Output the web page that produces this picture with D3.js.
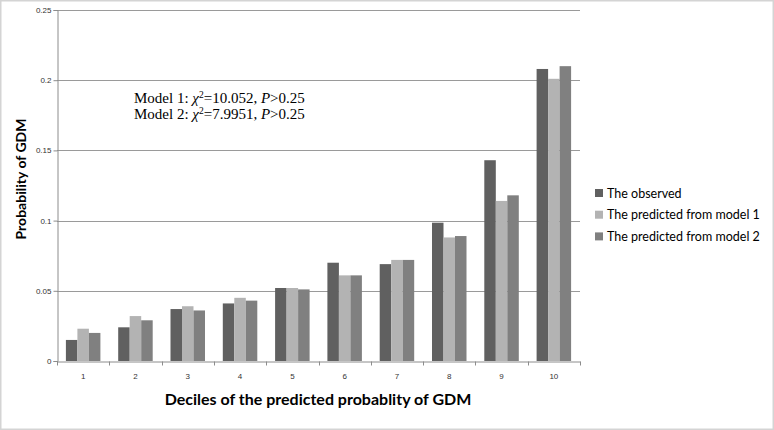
<!DOCTYPE html>
<html>
<head>
<meta charset="utf-8">
<script src="https://cdn.jsdelivr.net/npm/d3@7"></script>
<style>
  body { margin: 0; background: #fff; }
</style>
</head>
<body>
<script>
    var deciles = ["1", "2", "3", "4", "5", "6", "7", "8", "9", "10"];
    var seriesNames = ["The observed", "The predicted from model 1", "The predicted from model 2"];
    var observed = [0.015, 0.024, 0.037, 0.041, 0.052, 0.070, 0.069, 0.0985, 0.143, 0.208];
    var model1   = [0.023, 0.032, 0.039, 0.045, 0.052, 0.061, 0.072, 0.088, 0.114, 0.201];
    var model2   = [0.020, 0.029, 0.036, 0.043, 0.051, 0.061, 0.072, 0.089, 0.118, 0.210];
    var yTicks = [0, 0.05, 0.1, 0.15, 0.2, 0.25];
    var colors = ["#606060", "#b3b3b3", "#808080"];

    var width = 774, height = 430,
        plotLeft = 57, plotRight = 580,
        plotTop = 10, plotBottom = 361,
        groupWidth = 34.5;

    var svg = d3.select("body").append("svg")
        .attr("width", width)
        .attr("height", height)
        .style("font-family", "Lato, 'Open Sans', sans-serif");

    // outer frame
    svg.append("rect")
        .attr("x", 0.5).attr("y", 0.5)
        .attr("width", width - 1).attr("height", height - 1)
        .attr("fill", "#fff")
        .attr("stroke", "#d4d4d4")
        .attr("stroke-width", 2);

    var x = d3.scaleBand().domain(deciles).range([plotLeft, plotRight]).padding(0);
    var inner = d3.scaleBand().domain(d3.range(3))
        .range([(x.bandwidth() - groupWidth) / 2, (x.bandwidth() + groupWidth) / 2])
        .padding(0);

    var y = d3.scaleLinear().domain([0, 0.25]).range([plotBottom, plotTop]);

    // grid lines
    svg.append("g").selectAll("line")
        .data(yTicks.slice(1))
        .enter().append("line")
        .attr("x1", plotLeft).attr("x2", plotRight)
        .attr("y1", function (d) { return Math.round(y(d)) + 0.5; })
        .attr("y2", function (d) { return Math.round(y(d)) + 0.5; })
        .attr("stroke", "#9a9a9a")
        .attr("stroke-width", 1);

    var table = deciles.map(function (d, i) {
        return { cat: d, vals: [observed[i], model1[i], model2[i]] };
    });

    var groups = svg.append("g").selectAll("g")
        .data(table)
        .enter().append("g")
        .attr("transform", function (d) { return "translate(" + x(d.cat) + ",0)"; });

    groups.selectAll("rect")
        .data(function (d) { return d.vals; })
        .enter().append("rect")
        .attr("x", function (d, i) { return inner(i); })
        .attr("width", inner.bandwidth())
        .attr("y", function (d) { return y(d); })
        .attr("height", function (d) { return plotBottom - y(d); })
        .attr("fill", function (d, i) { return colors[i]; });

    // y axis
    var yAxis = svg.append("g")
        .attr("transform", "translate(" + (plotLeft + 0.5) + ",0)")
        .call(d3.axisLeft(y).tickValues(yTicks).tickSize(4).tickFormat(function (d) { return d === 0 ? "0" : String(d); }));
    yAxis.select(".domain").attr("stroke", "#8c8c8c");
    yAxis.selectAll(".tick line").attr("stroke", "#8c8c8c");
    yAxis.selectAll("text").attr("font-size", 8).attr("fill", "#333").attr("x", -6);

    // x axis
    var xAxis = svg.append("g")
        .attr("transform", "translate(0," + (plotBottom + 0.5) + ")")
        .call(d3.axisBottom(x).tickSize(0));
    xAxis.select(".domain").attr("stroke", "#8c8c8c");
    xAxis.selectAll("text").attr("font-size", 8).attr("fill", "#333").attr("dy", "1.8em");
    xAxis.append("g").selectAll("line")
        .data(d3.range(deciles.length + 1))
        .enter().append("line")
        .attr("x1", function (d) { return Math.round(plotLeft + d * x.bandwidth()) + 0.5; })
        .attr("x2", function (d) { return Math.round(plotLeft + d * x.bandwidth()) + 0.5; })
        .attr("y1", 0).attr("y2", 4)
        .attr("stroke", "#8c8c8c");

    // axis titles
    svg.append("text")
        .attr("transform", "translate(26,179) rotate(-90)")
        .attr("text-anchor", "middle")
        .attr("font-size", 14)
        .attr("font-weight", "bold")
        .attr("fill", "#000")
        .text("Probability of GDM");

    svg.append("text")
        .attr("x", 318).attr("y", 405)
        .attr("text-anchor", "middle")
        .attr("font-size", 16)
        .attr("font-weight", "bold")
        .attr("fill", "#000")
        .text("Deciles of the predicted probablity of GDM");

    // annotation
    var note = svg.append("g")
        .style("font-family", "'Liberation Serif', 'DejaVu Serif', serif")
        .attr("font-size", 15)
        .attr("fill", "#000");
    var lines = [["Model 1: ", "10.052"], ["Model 2: ", "7.9951"]];
    lines.forEach(function (l, i) {
        var t = note.append("text").attr("x", 134).attr("y", 103 + i * 15.5);
        t.append("tspan").text(l[0]);
        t.append("tspan").attr("font-style", "italic").text("\u03C7");
        t.append("tspan").attr("font-size", 9.5).attr("dy", -5).text("2");
        t.append("tspan").attr("dy", 5).text("=" + l[1] + ", ");
        t.append("tspan").attr("font-style", "italic").text("P");
        t.append("tspan").text(">0.25");
    });

    // legend
    var legend = svg.append("g").attr("transform", "translate(595,193)");
    var items = legend.selectAll("g")
        .data(seriesNames)
        .enter().append("g")
        .attr("transform", function (d, i) { return "translate(0," + (i * 21.7) + ")"; });
    items.append("rect")
        .attr("x", 0).attr("y", -4)
        .attr("width", 8).attr("height", 8)
        .attr("fill", function (d, i) { return colors[i]; });
    items.append("text")
        .attr("x", 12).attr("y", 4.5)
        .attr("font-size", 12.5)
        .attr("fill", "#000")
        .text(function (d) { return d; });
</script>
</body>
</html>
